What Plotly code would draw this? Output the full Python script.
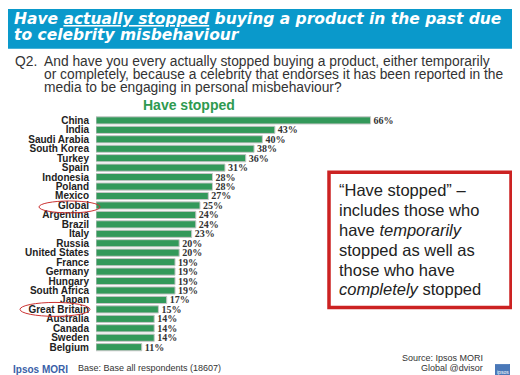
import plotly.graph_objects as go

countries = ["China", "India", "Saudi Arabia", "South Korea", "Turkey", "Spain",
             "Indonesia", "Poland", "Mexico", "Global", "Argentina", "Brazil",
             "Italy", "Russia", "United States", "France", "Germany", "Hungary",
             "South Africa", "Japan", "Great Britain", "Australia", "Canada",
             "Sweden", "Belgium"]
have_stopped = [66, 43, 40, 38, 36, 31, 28, 28, 27, 25, 24, 24, 23, 20, 20,
                19, 19, 19, 19, 17, 15, 14, 14, 14, 11]

W, H = 520, 375


def px(x):
    return x / W


def py(y):
    return 1 - y / H


fig = go.Figure()
fig.add_trace(go.Bar(
    y=countries, x=have_stopped, orientation="h",
    marker=dict(color="#33995A", line=dict(color="#C8C8C8", width=1)),
    texttemplate="%{x}%", textposition="outside", constraintext="none",
    textfont=dict(family="Liberation Serif", size=10, weight="bold", color="#333333"),
    cliponaxis=False, hoverinfo="skip",
))

n = len(countries)
fig.update_layout(
    width=W, height=H, margin=dict(l=0, r=0, t=0, b=0),
    paper_bgcolor="white", plot_bgcolor="white", showlegend=False,
    bargap=0.24,
    xaxis=dict(domain=[px(88), 1], range=[0, 103.85], visible=False, fixedrange=True),
    yaxis=dict(domain=[py(344.75), py(107.25)], type="category",
               categoryorder="array", categoryarray=countries,
               tickmode="array", tickvals=countries, ticktext=countries,
               range=[n - 0.5, -0.5], showgrid=False, zeroline=False,
               showline=False, ticks="", ticklabelstandoff=6,
               tickfont=dict(family="Liberation Sans", size=10, weight="bold", color="#222222")),
)

shapes = []
# title band
shapes.append(dict(type="rect", xref="paper", yref="paper", x0=0, x1=1,
                   y0=py(40), y1=1, fillcolor="#0A99CB", line=dict(width=0), layer="below"))
# red box
shapes.append(dict(type="rect", xref="paper", yref="paper", x0=px(321), x1=px(503),
                   y0=py(300), y1=py(164), fillcolor="white",
                   line=dict(color="#CC2222", width=3.5)))
# ellipses
shapes.append(dict(type="circle", xref="paper", yref="paper", x0=px(31), x1=px(92),
                   y0=py(205), y1=py(193), line=dict(color="#CC3333", width=1)))
shapes.append(dict(type="circle", xref="paper", yref="paper", x0=px(12), x1=px(82),
                   y0=py(309), y1=py(295), line=dict(color="#CC3333", width=1)))
# logo
shapes.append(dict(type="rect", xref="paper", yref="paper", x0=px(487), x1=px(502),
                   y0=py(372), y1=py(357), fillcolor="#4A78B8", line=dict(width=0)))
fig.update_layout(shapes=shapes)

ann = []


def add(text, x, y, size, color, family="Liberation Sans", xanchor="left", **kw):
    ann.append(dict(text=text, x=px(x), y=py(y), xref="paper", yref="paper",
                    xanchor=xanchor, yanchor="middle", showarrow=False, borderpad=0,
                    font=dict(family=family, size=size, color=color, **kw)))


tfont = dict(weight="bold", style="italic")
add("Have <u>actually stopped</u> buying a product in the past due", 5, 10, 15.5, "white",
    family="DejaVu Sans", **tfont)
add("to celebrity misbehaviour", 5, 26, 15.5, "white", family="DejaVu Sans", **tfont)

qc = "#333333"
add("Q2.", 6, 53, 13.8, qc)
add("And have you every actually stopped buying a product, either temporarily", 35, 53, 13.8, qc)
add("or completely, because a celebrity that endorses it has been reported in the", 35, 66, 13.8, qc)
add("media to be engaging in personal misbehaviour?", 35, 79, 13.8, qc)

add("Have stopped", 181, 97, 14, "#2E9A50", xanchor="center", weight="bold")

box_lines = ["“Have stopped” –", "includes those who", "have <i>temporarily</i>",
             "stopped as well as", "those who have", "<i>completely</i> stopped"]
for i, t in enumerate(box_lines):
    add(t, 330, 182 + 20 * i, 16.5, "#222222")

add("Ipsos MORI", 4, 362, 10, "#3A5FA8", weight="bold")
add("Base: Base all respondents (18607)", 69, 361, 9, "#333333")
add("Source: Ipsos MORI", 476, 351, 9, "#333333", xanchor="right")
add("Global @dvisor", 476, 361, 9, "#333333", xanchor="right")
add("ipsos", 494.5, 365, 5, "white", xanchor="center")

fig.update_layout(annotations=ann)
fig.write_html("out.html")
